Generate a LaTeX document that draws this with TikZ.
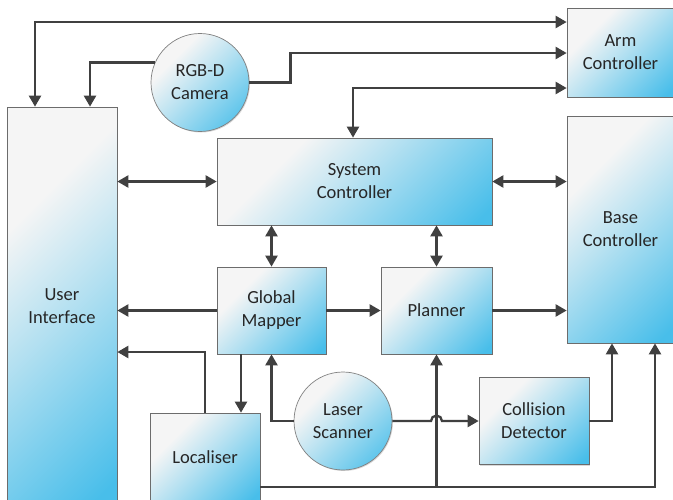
\documentclass[tikz,border=0pt]{standalone}
\usepackage{fontspec}
\setmainfont{Carlito}
\usepackage{tikz}
\usetikzlibrary{calc}
\usetikzlibrary{arrows.meta}
\usetikzlibrary{shadows}

\definecolor{boxlight}{RGB}{245,245,245}
\definecolor{boxblue}{RGB}{72,190,234}
\definecolor{linkgray}{RGB}{64,64,64}
\definecolor{textgray}{RGB}{38,38,38}
\pgfdeclareverticalshading{panel}{100bp}{color(0bp)=(boxblue); color(18bp)=(boxblue);
  color(50bp)=(boxblue!35!boxlight); color(68bp)=(boxlight); color(100bp)=(boxlight)}

\begin{document}
\begin{tikzpicture}[x=1pt, y=-1pt,
    block/.style={rectangle, draw=gray!85!black, line width=0.7pt,
      shading=panel, shading angle=45,
      drop shadow={shadow xshift=1pt, shadow yshift=-1pt, opacity=0.3, fill=gray},
      align=center, inner sep=2pt, text=textgray,
      font=\fontsize{18.5}{23}\selectfont},
    sensor/.style={block, circle, draw=gray, minimum size=98pt},
    link/.style={draw=linkgray, line width=2.3pt,
      arrows={-Triangle[length=11pt, width=12pt]}},
    duplex/.style={link, arrows={Triangle[length=11pt, width=12pt]-Triangle[length=11pt, width=12pt]}}]
    \useasboundingbox (0,0) rectangle (673,499);
    \clip (0,0) rectangle (673,499);
    % blocks
    \node[block, minimum width=110pt, minimum height=398pt] (ui) at (62,306) {User\\Interface};
    \node[sensor] (cam) at (200,82.5) {RGB-D\\Camera};
    \node[block, minimum width=275pt, minimum height=87pt] (sys) at (354.5,181.5) {System\\Controller};
    \node[block, minimum width=107pt, minimum height=89pt] (arm) at (620.5,52.5) {Arm\\Controller};
    \node[block, minimum width=107pt, minimum height=227pt] (base) at (620.5,229.5) {Base\\Controller};
    \node[block, minimum width=109pt, minimum height=87pt] (mapper) at (271.5,310.5) {Global\\Mapper};
    \node[block, minimum width=111pt, minimum height=87pt] (planner) at (436.5,310.5) {Planner};
    \node[sensor] (laser) at (343,421) {Laser\\Scanner};
    \node[block, minimum width=110pt, minimum height=87pt] (collision) at (534,421) {Collision\\Detector};
    \node[block, minimum width=110pt, minimum height=88pt] (loc) at (205,457) {Localiser};
    % connectors
    \draw[duplex] (ui.north -| 35,0) |- (arm.west |- 0,22);
    \draw[link] (cam.156) -| (ui.north -| 90,0);
    \draw[link] (cam.east) -- ++(41,0) |- (arm.west |- 0,53);
    \draw[duplex] (arm.west |- 0,88) -| (sys.north -| 353,0);
    \draw[duplex] (sys.west) -- (ui.east |- sys.west);
    \draw[duplex] (sys.east) -- (base.west |- sys.east);
    \draw[duplex] (mapper.north) -- (sys.south -| mapper.north);
    \draw[duplex] (planner.north) -- (sys.south -| planner.north);
    \draw[link] (mapper.west) -- (ui.east |- mapper.west);
    \draw[link] (mapper.east) -- (planner.west);
    \draw[link] (planner.east) -- (base.west |- planner.east);
    \draw[link] (loc.north) |- (ui.east |- 0,352);
    \draw[link] (mapper.south -| 241,0) -- (loc.north -| 241,0);
    \draw[link] (laser.west) -| (mapper.south);
    \draw[link] (laser.east) -- (431,421) arc (180:360:5.5) -- (collision.west);
    \draw[link] (collision.east) -| (base.south -| 612,0);
    \draw[link] (loc.east |- 0,487) -| (base.south -| 655,0);
    \draw[link] (planner.south |- 0,487) -- (planner.south);
\end{tikzpicture}
\end{document}
